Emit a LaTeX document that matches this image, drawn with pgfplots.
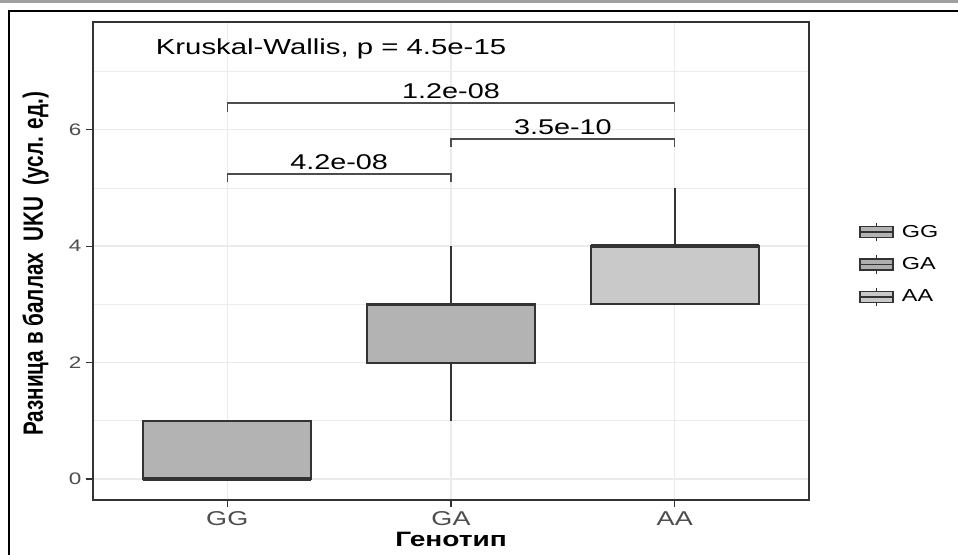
\documentclass[border=0pt]{standalone}
\usepackage{fontspec}
\setmainfont{Liberation Sans}
\usepackage{graphicx}
\usepackage{pgfplots}
\pgfplotsset{compat=1.18}
\usepgfplotslibrary{statistics}
\definecolor{g20}{HTML}{333333}
\definecolor{g30}{HTML}{4D4D4D}
\definecolor{g92}{HTML}{EBEBEB}
\definecolor{ggc}{HTML}{B3B3B3}
\definecolor{gac}{HTML}{AEAEAE}
\definecolor{aac}{HTML}{C9C9C9}
\definecolor{barc}{HTML}{A0A0A0}
\newcommand{\sx}[1]{\scalebox{1.35}[1]{#1}}
\begin{document}
\begin{tikzpicture}
\useasboundingbox (0,0) rectangle (718.5pt,416.25pt);
\fill[white] (0,0) rectangle (718.5pt,416.25pt);
\fill[barc] (0,414pt) rectangle (718.5pt,416.25pt);
\draw[black, line width=1.5pt] (718.5pt,408pt) -- (6.75pt,408pt) -- (6.75pt,0pt);
\begin{axis}[
 at={(69.75pt,41.25pt)}, anchor=south west,
 scale only axis, width=537pt, height=358.5pt,
 xmin=0.4, xmax=3.6, ymin=-0.36, ymax=7.85,
 xtick={1,2,3}, xticklabels={\sx{GG},\sx{GA},\sx{AA}},
 ytick={0,2,4,6}, minor ytick={1,3,5,7},
 /pgf/number format/assume math mode=true,
 yticklabel={\sx{\pgfmathprintnumber{\tick}}},
 grid=both,
 major grid style={g92, line width=1.1pt},
 minor grid style={g92, line width=0.6pt},
 axis line style={g20, line width=0.9pt},
 tick style={g20, line width=0.9pt},
 major tick length=5.25pt, minor tick length=0pt,
 tick align=outside, tick pos=left,
 x tick label style={font=\fontsize{15}{18}\selectfont, text=g30},
 y tick label style={font=\fontsize{12.5}{15}\selectfont, text=g30},
 clip=false,
 boxplot/draw direction=y,
 boxplot/every median/.style={line width=2.6pt},
 legend style={at={(1.0698,0.5947)}, anchor=north west, draw=none, fill=none,
   inner sep=0pt, outer sep=0pt, row sep=0pt, column sep=6pt,
   nodes={inner sep=0pt, font=\fontsize{13}{15}\selectfont}, cells={anchor=west}},
]
\addplot[forget plot, draw=g20, fill=ggc, line width=1.5pt,
  boxplot prepared={draw position=1, lower whisker=0, lower quartile=0, median=0,
  upper quartile=1, upper whisker=1, box extend=0.75, whisker extend=0}] coordinates {};
\addplot[forget plot, draw=g20, fill=ggc, line width=1.5pt,
  boxplot prepared={draw position=2, lower whisker=1, lower quartile=2, median=3,
  upper quartile=3, upper whisker=4, box extend=0.75, whisker extend=0}] coordinates {};
\addplot[forget plot, draw=g20, fill=aac, line width=1.5pt,
  boxplot prepared={draw position=3, lower whisker=3, lower quartile=3, median=4,
  upper quartile=4, upper whisker=5, box extend=0.75, whisker extend=0}] coordinates {};
% brackets
\addplot[forget plot, g30, line width=0.9pt] coordinates {(1,5.10) (1,5.24) (2,5.24) (2,5.10)};
\addplot[forget plot, g30, line width=0.9pt] coordinates {(2,5.70) (2,5.84) (3,5.84) (3,5.70)};
\addplot[forget plot, g30, line width=0.9pt] coordinates {(1,6.31) (1,6.46) (3,6.46) (3,6.31)};
\node[anchor=base, font=\fontsize{16}{19}\selectfont] at (axis cs:1.5,5.32) {\sx{4.2e-08}};
\node[anchor=base, font=\fontsize{16}{19}\selectfont] at (axis cs:2.5,5.92) {\sx{3.5e-10}};
\node[anchor=base, font=\fontsize{16}{19}\selectfont] at (axis cs:2,6.53) {\sx{1.2e-08}};
\node[anchor=base west, font=\fontsize{16.3}{19}\selectfont] at (axis cs:0.66,7.30) {\sx{Kruskal-Wallis, p = 4.5e-15}};
\node[rotate=90, anchor=center, font=\bfseries\fontsize{15.5}{18}\selectfont] at (rel axis cs:-0.0803,0.494) {\scalebox{1}[1.35]{Разница в баллах\ \ UKU\ \ (усл. ед.)}};
\node[anchor=base, font=\bfseries\fontsize{15.6}{18}\selectfont] at (rel axis cs:0.5,-0.0983) {\sx{Генотип}};
% legend
\addlegendimage{legend image code/.code={
  \path[draw=none, fill=none] (0pt,-12.19pt) rectangle (25pt,12.19pt);
  \draw[g20, line width=1.2pt] (12.5pt,-7.1pt) -- (12.5pt,7.1pt);
  \draw[g20, line width=1.2pt, fill=ggc] (0pt,-4pt) rectangle (25pt,4pt);
  \draw[g20, line width=1.2pt] (0pt,0pt) -- (25pt,0pt);}}
\addlegendentry{\sx{GG}}
\addlegendimage{legend image code/.code={
  \path[draw=none, fill=none] (0pt,-12.19pt) rectangle (25pt,12.19pt);
  \draw[g20, line width=1.2pt] (12.5pt,-7.1pt) -- (12.5pt,7.1pt);
  \draw[g20, line width=1.2pt, fill=gac] (0pt,-4pt) rectangle (25pt,4pt);
  \draw[g20, line width=1.2pt] (0pt,0pt) -- (25pt,0pt);}}
\addlegendentry{\sx{GA}}
\addlegendimage{legend image code/.code={
  \path[draw=none, fill=none] (0pt,-12.19pt) rectangle (25pt,12.19pt);
  \draw[g20, line width=1.2pt] (12.5pt,-7.1pt) -- (12.5pt,7.1pt);
  \draw[g20, line width=1.2pt, fill=aac] (0pt,-4pt) rectangle (25pt,4pt);
  \draw[g20, line width=1.2pt] (0pt,0pt) -- (25pt,0pt);}}
\addlegendentry{\sx{AA}}
\end{axis}
\end{tikzpicture}
\end{document}
